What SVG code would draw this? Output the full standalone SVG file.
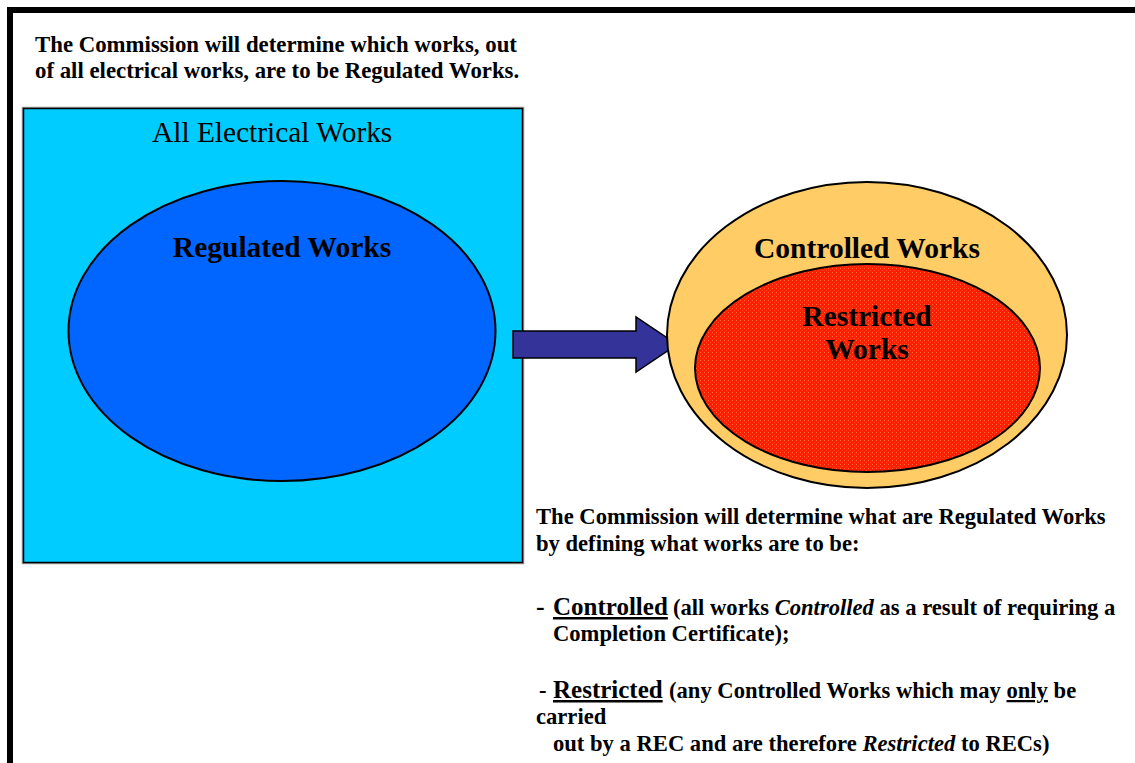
<svg xmlns="http://www.w3.org/2000/svg" width="1135" height="763" viewBox="0 0 1135 763">
<style>
  text { font-family: "Liberation Serif", "Times New Roman", serif; fill: #000; }
  .title { font-size: 22.8px; font-weight: bold; }
  .big { font-size: 29.5px; font-weight: bold; }
  .body { font-size: 22.6px; font-weight: bold; }
  .key { font-size: 25px; font-weight: bold; text-decoration: underline; }
  .shape { stroke: #000; stroke-width: 2; }
</style>
<defs>
  <pattern id="dots" width="4" height="4" patternUnits="userSpaceOnUse">
    <rect width="4" height="4" fill="#FF1E00"/>
    <rect x="0" y="0" width="1" height="1" fill="#FF6A3A"/>
    <rect x="2" y="2" width="1" height="1" fill="#FF4420"/>
  </pattern>
</defs>
<rect x="0" y="0" width="1135" height="763" fill="#fff"/>
<rect x="10" y="10" width="1200" height="800" fill="none" stroke="#000" stroke-width="6"/>

<g id="intro">
  <text class="title" x="35" y="52">The Commission will determine which works, out</text>
  <text class="title" x="35" y="78">of all electrical works, are to be Regulated Works.</text>
</g>

<g id="all-electrical-works">
  <rect x="23.5" y="108.5" width="499" height="454" fill="none" stroke="#999" stroke-width="3.5"/>
  <rect x="23.5" y="108.5" width="499" height="454" fill="#00CCFF" stroke="#000" stroke-width="1.5"/>
  <text x="152" y="142" font-size="29.4">All Electrical Works</text>
</g>

<g id="regulated-works">
  <ellipse class="shape" cx="282" cy="331" rx="213.5" ry="150" fill="#0066FF"/>
  <text class="big" x="282" y="257" text-anchor="middle">Regulated Works</text>
</g>

<g id="connectors">
  <polygon points="513,331 636,331 636,317 677,344.5 636,372 636,358 513,358" fill="#333399" stroke="#000" stroke-width="1.5"/>
</g>

<g id="controlled-works">
  <ellipse class="shape" cx="867" cy="335" rx="200" ry="153" fill="#FFCC66"/>
  <text class="big" x="867" y="258" text-anchor="middle">Controlled Works</text>
</g>

<g id="restricted-works">
  <ellipse class="shape" cx="867.5" cy="368" rx="172.5" ry="104" fill="url(#dots)"/>
  <text class="big" x="867" y="326" text-anchor="middle">Restricted</text>
  <text class="big" x="867" y="359" text-anchor="middle">Works</text>
</g>

<g id="explanation">
  <text class="body" x="536" y="524">The Commission will determine what are Regulated Works</text>
  <text class="body" x="536" y="551">by defining what works are to be:</text>
  <text class="body" y="615"><tspan x="536" font-size="26">-</tspan><tspan class="key" x="553">Controlled</tspan><tspan x="673">(all works </tspan><tspan font-style="italic">Controlled</tspan> as a result of requiring a</text>
  <text class="body" x="553" y="641">Completion Certificate);</text>
  <text class="body" y="698"><tspan x="539">-</tspan><tspan class="key" x="553">Restricted</tspan><tspan x="669">(any Controlled Works which may </tspan><tspan text-decoration="underline">only</tspan> be</text>
  <text class="body" x="536" y="724">carried</text>
  <text class="body" x="553" y="751">out by a REC and are therefore <tspan font-style="italic">Restricted</tspan> to RECs)</text>
</g>
</svg>
